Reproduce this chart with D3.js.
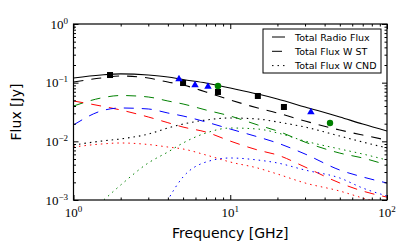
<!DOCTYPE html>
<html lang="en">
<head>
<meta charset="UTF-8">
<title>Radio Flux</title>
<script src="https://d3js.org/d3.v7.min.js"></script>
<style>
  body { margin: 0; background: #fff; }
  svg { display: block; }
</style>
</head>
<body>
<svg id="chart" width="407" height="251"></svg>
<script>
// model frequencies [GHz]
const freq = [1, 1.5, 2, 3, 4, 5, 7, 10, 15, 20, 30, 50, 70, 100];

// model curves [Jy]
const totalFlux   = [0.120, 0.135, 0.141, 0.135, 0.125, 0.113, 0.0986, 0.081, 0.064, 0.0527, 0.0385, 0.026, 0.0197, 0.015];
const totalST     = [0.1025, 0.12, 0.13, 0.12, 0.1026, 0.0912, 0.0694, 0.0507, 0.037, 0.0304, 0.0222, 0.0156, 0.0128, 0.0105];
const totalCND    = [0.00866, 0.0101, 0.011, 0.0133, 0.0169, 0.0197, 0.0231, 0.025, 0.024, 0.0214, 0.0175, 0.0123, 0.00974, 0.0077];
const greenDashed = [0.04, 0.0548, 0.0604, 0.057, 0.0487, 0.0433, 0.0342, 0.027, 0.019, 0.015, 0.0097, 0.0063, 0.0052, 0.00395];
const redDashed   = [0.0487, 0.04, 0.0342, 0.026, 0.0208, 0.0175, 0.0144, 0.0101, 0.0071, 0.00585, 0.00365, 0.00195, 0.00142, 0.00112];
const blueDashed  = [0.019, 0.0329, 0.037, 0.0356, 0.0304, 0.027, 0.0214, 0.0162, 0.0119, 0.00937, 0.00608, 0.00324, 0.00247, 0.00195];
const redDotted   = [0.008, 0.009, 0.00937, 0.00883, 0.008, 0.0074, 0.00585, 0.00444, 0.0035, 0.00277, 0.00195, 0.00142, 0.00108, 0.00082];
const greenDotted = [0.0004, 0.00092, 0.0018, 0.00428, 0.00658, 0.00937, 0.01387, 0.01687, 0.0162, 0.0139, 0.0101, 0.0074, 0.00608, 0.0048];
const blueDotted  = [null, null, null, 0.0002, 0.001, 0.00247, 0.00444, 0.0052, 0.0048, 0.00428, 0.00324, 0.00237, 0.0016, 0.00117];

// observations
const squareF = [1.71, 5.0, 8.35, 15.0, 22.0];
const squareS = [0.135, 0.0986, 0.0694, 0.0593, 0.0385];
const triangleF = [4.71, 5.96, 7.21, 32.7];
const triangleS = [0.1155, 0.0912, 0.086, 0.0316];
const circleF = [8.35, 43.3];
const circleS = [0.0877, 0.0205];

const xMajor = [1, 10, 100];
const yMajor = [0.001, 0.01, 0.1, 1];
const xTickLabels = [["10", "0"], ["10", "1"], ["10", "2"]];
const yTickLabels = [["10", "\u22123"], ["10", "\u22122"], ["10", "\u22121"], ["10", "0"]];
const legendLabels = ["Total Radio Flux", "Total Flux W ST", "Total Flux W CND"];

const svg = d3.select("#chart");
const m = { left: 73.5, right: 387, top: 24, bottom: 200 };

const x = d3.scaleLog().domain([1, 100]).range([m.left, m.right]);
const y = d3.scaleLog().domain([0.001, 1]).range([m.bottom, m.top]);

// minor ticks 2..9 per decade
const xMinor = [], yMinor = [];
[1, 10].forEach(d => { for (let k = 2; k <= 9; k++) xMinor.push(d * k); });
[0.001, 0.01, 0.1].forEach(d => { for (let k = 2; k <= 9; k++) yMinor.push(d * k); });

svg.append("defs").append("clipPath").attr("id", "clip")
    .append("rect").attr("x", m.left).attr("y", m.top)
    .attr("width", m.right - m.left).attr("height", m.bottom - m.top);

const plot = svg.append("g").attr("clip-path", "url(#clip)");

const series = [
    { v: totalFlux, color: "#000", dash: null, w: 1.1 },
    { v: totalST, color: "#000", dash: "10,8", w: 1.1 },
    { v: totalCND, color: "#000", dash: "1.5,4", w: 1.1 },
    { v: greenDashed, color: "#008000", dash: "10,8", w: 1 },
    { v: redDashed, color: "#ff0000", dash: "10,8", w: 1 },
    { v: blueDashed, color: "#0000ff", dash: "10,8", w: 1 },
    { v: redDotted, color: "#ff0000", dash: "1.5,4", w: 1 },
    { v: greenDotted, color: "#008000", dash: "1.5,4", w: 1 },
    { v: blueDotted, color: "#0000ff", dash: "1.5,4", w: 1 }
];

const line = d3.line()
    .defined(d => d[1] != null)
    .x(d => x(d[0]))
    .y(d => y(d[1]))
    .curve(d3.curveMonotoneX);

series.forEach(s => {
    plot.append("path")
        .datum(freq.map((f, i) => [f, s.v[i]]))
        .attr("d", line)
        .attr("fill", "none")
        .attr("stroke", s.color)
        .attr("stroke-width", s.w)
        .attr("stroke-dasharray", s.dash);
});

// data points
plot.selectAll(".sq").data(squareF).enter().append("rect")
    .attr("x", d => x(d) - 3)
    .attr("y", (d, i) => y(squareS[i]) - 3)
    .attr("width", 6).attr("height", 6)
    .attr("fill", "#000");

const tri = d3.symbol().type(d3.symbolTriangle).size(24);
plot.selectAll(".tri").data(triangleF).enter().append("path")
    .attr("d", tri)
    .attr("transform", (d, i) => `translate(${x(d)},${y(triangleS[i])})`)
    .attr("fill", "#0000ff");

plot.selectAll(".circ").data(circleF).enter().append("circle")
    .attr("cx", d => x(d))
    .attr("cy", (d, i) => y(circleS[i]))
    .attr("r", 3.2)
    .attr("fill", "#008000");

// axes: ticks pointing inward on all four sides
function addAxis(axisFn, scale, tr, major, minor) {
    const g = svg.append("g").attr("transform", tr);
    g.call(axisFn(scale).tickValues(major).tickSize(-5).tickFormat(""));
    g.select(".domain").remove();
    const g2 = svg.append("g").attr("transform", tr);
    g2.call(axisFn(scale).tickValues(minor).tickSize(-2.5).tickFormat(""));
    g2.select(".domain").remove();
    svg.selectAll(".tick line").attr("stroke", "#000").attr("stroke-width", 1);
}
addAxis(d3.axisBottom, x, `translate(0,${m.bottom})`, xMajor, xMinor);
addAxis(d3.axisTop, x, `translate(0,${m.top})`, xMajor, xMinor);
addAxis(d3.axisLeft, y, `translate(${m.left},0)`, yMajor, yMinor);
addAxis(d3.axisRight, y, `translate(${m.right},0)`, yMajor, yMinor);

svg.append("rect")
    .attr("x", m.left).attr("y", m.top)
    .attr("width", m.right - m.left).attr("height", m.bottom - m.top)
    .attr("fill", "none").attr("stroke", "#000").attr("stroke-width", 1.2);

// tick labels
const tickFont = "'Liberation Serif', 'DejaVu Serif', serif";
xMajor.forEach((d, i) => {
    const t = svg.append("text")
        .attr("x", x(d)).attr("y", 217)
        .attr("text-anchor", "middle")
        .attr("font-family", tickFont).attr("font-size", 13);
    t.append("tspan").text(xTickLabels[i][0]);
    t.append("tspan").attr("dy", -5).attr("font-size", 9).text(xTickLabels[i][1]);
});
yMajor.forEach((d, i) => {
    const t = svg.append("text")
        .attr("x", 68).attr("y", y(d) + 4.5)
        .attr("text-anchor", "end")
        .attr("font-family", tickFont).attr("font-size", 13);
    t.append("tspan").text(yTickLabels[i][0]);
    t.append("tspan").attr("dy", -5).attr("font-size", 9).text(yTickLabels[i][1]);
});

// axis titles
const sans = "'DejaVu Sans', sans-serif";
svg.append("text")
    .attr("x", (m.left + m.right) / 2).attr("y", 238)
    .attr("text-anchor", "middle")
    .attr("font-family", sans).attr("font-size", 14)
    .text("Frequency [GHz]");
svg.append("text")
    .attr("transform", `translate(21,${(m.top + m.bottom) / 2}) rotate(-90)`)
    .attr("text-anchor", "middle")
    .attr("font-family", sans).attr("font-size", 14)
    .text("Flux [Jy]");

// legend
const lg = svg.append("g");
lg.append("rect")
    .attr("x", 263).attr("y", 29).attr("width", 118).attr("height", 44)
    .attr("fill", "#fff").attr("stroke", "#000").attr("stroke-width", 1);
legendLabels.forEach((lab, i) => {
    const yy = 37 + i * 14.3;
    lg.append("line")
        .attr("x1", 272).attr("x2", 285).attr("y1", yy).attr("y2", yy)
        .attr("stroke", "#000").attr("stroke-width", 1)
        .attr("stroke-dasharray", series[i].dash);
    lg.append("text")
        .attr("x", 295).attr("y", yy + 3.5)
        .attr("font-family", sans).attr("font-size", 9.5)
        .text(lab);
});
</script>
</body>
</html>
